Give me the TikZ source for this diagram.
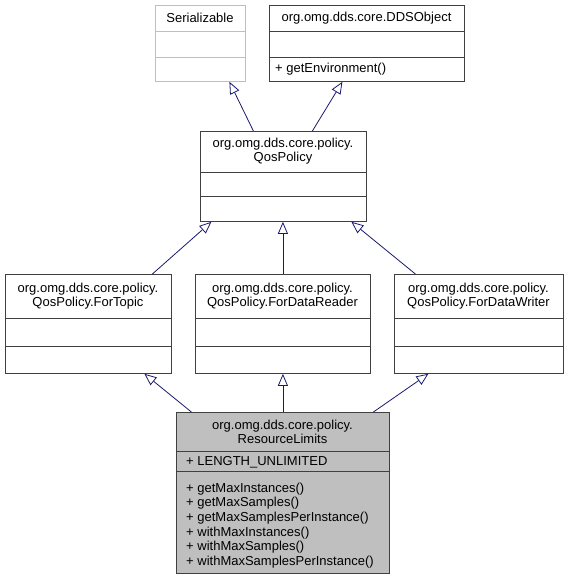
\documentclass[tikz,border=0pt]{standalone}
\usepackage{fontspec}
\setmainfont{Liberation Sans}
\usetikzlibrary{arrows.meta}

\definecolor{edgeblue}{HTML}{191970}
\definecolor{boxline}{HTML}{404040}
\definecolor{lightline}{HTML}{BFBFBF}
\definecolor{curfill}{HTML}{BFBFBF}

\tikzset{
  cls/.style={draw=boxline, line width=0.8pt, inner sep=0pt, anchor=north west},
  sep/.style={boxline, line width=0.8pt},
  title/.style={align=center, inner sep=0pt, font=\fontsize{13}{14}\selectfont},
  member/.style={align=left, anchor=west, inner sep=0pt, font=\fontsize{13}{14.6}\selectfont},
  inh/.style={draw=edgeblue, line width=0.8pt, -{Triangle[open, length=12pt, width=10pt]}}
}

\begin{document}
\begin{tikzpicture}[x=1pt, y=-1pt]
	\useasboundingbox (0,0) rectangle (568,581);
	% top row
	\node[cls, draw=lightline, minimum width=90pt, minimum height=76pt] (ser) at (155,5) {};
	\draw[lightline, line width=0.8pt] (155,31) -- (245,31) (155,57) -- (245,57);
	\node[title] (sertitle) at (200,18) {Serializable};
	\node[cls, minimum width=195pt, minimum height=76pt] (dds) at (269,5) {};
	\draw[sep] (269,31) -- (464,31) (269,57) -- (464,57);
	\node[title] (ddstitle) at (366.5,18) {org.omg.dds.core.DDSObject};
	\node[member] (ddsops) at (275,69) {+ getEnvironment()};
	% QosPolicy
	\node[cls, minimum width=166pt, minimum height=90pt] (qos) at (200,131) {};
	\draw[sep] (200,172) -- (366,172) (200,196) -- (366,196);
	\node[title] (qostitle) at (283,151) {org.omg.dds.core.policy.\\QosPolicy};
	% middle row
	\node[cls, minimum width=166pt, minimum height=99pt] (topic) at (5,274) {};
	\draw[sep] (5,318) -- (171,318) (5,346) -- (171,346);
	\node[title] (topictitle) at (88,296) {org.omg.dds.core.policy.\\QosPolicy.ForTopic};
	\node[cls, minimum width=175pt, minimum height=99pt] (reader) at (195,274) {};
	\draw[sep] (195,318) -- (370,318) (195,346) -- (370,346);
	\node[title] (readertitle) at (282.5,296) {org.omg.dds.core.policy.\\QosPolicy.ForDataReader};
	\node[cls, minimum width=169pt, minimum height=99pt] (writer) at (394,274) {};
	\draw[sep] (394,318) -- (563,318) (394,346) -- (563,346);
	\node[title] (writertitle) at (478.5,296) {org.omg.dds.core.policy.\\QosPolicy.ForDataWriter};
	% ResourceLimits
	\node[cls, fill=curfill, minimum width=213pt, minimum height=161pt] (res) at (176,412) {};
	\draw[sep] (176,451) -- (389,451) (176,471) -- (389,471);
	\node[title] (restitle) at (282.5,432) {org.omg.dds.core.policy.\\ResourceLimits};
	\node[member] (resattr) at (186,462) {+ LENGTH\_UNLIMITED};
	\node[member] (resops) at (186,525.5) {+ getMaxInstances()\\+ getMaxSamples()\\+ getMaxSamplesPerInstance()\\+ withMaxInstances()\\+ withMaxSamples()\\+ withMaxSamplesPerInstance()};
	% inheritance
	\draw[inh] ([xshift=-30pt]qos.north) -- ([xshift=29pt]ser.south);
	\draw[inh] ([xshift=29pt]qos.north) -- ([xshift=-24.5pt]dds.south);
	\draw[inh] ([xshift=64pt]topic.north) -- ([xshift=-72pt]qos.south);
	\draw[inh] (reader.north) -- (reader.north |- qos.south);
	\draw[inh] ([xshift=-63.5pt]writer.north) -- ([xshift=68pt]qos.south);
	\draw[inh] ([xshift=-91.5pt]res.north) -- ([xshift=56pt]topic.south);
	\draw[inh] (res.north) -- (reader.south);
	\draw[inh] ([xshift=90.5pt]res.north) -- ([xshift=-50.5pt]writer.south);
\end{tikzpicture}
\end{document}
